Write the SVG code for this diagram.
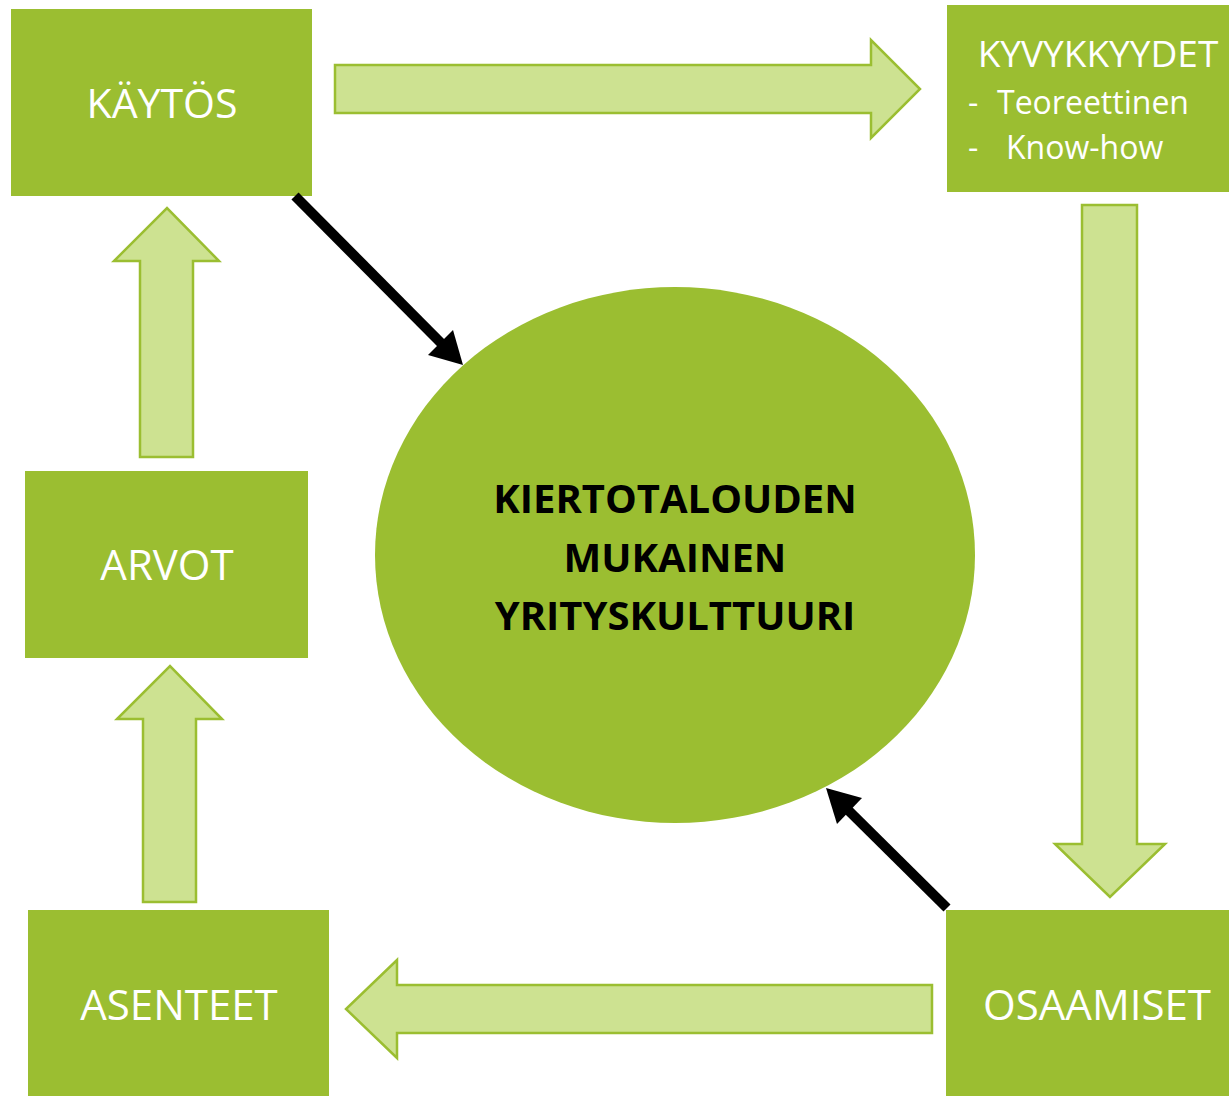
<svg xmlns="http://www.w3.org/2000/svg" width="1229" height="1096" viewBox="0 0 1229 1096">
  <style>
    .box { fill: #9BBE31; }
    .blk { fill: #CDE291; stroke: #9BBE31; stroke-width: 2.5; stroke-linejoin: miter; }
    .lbl { font-family: "Open Sans", "Noto Sans", "Liberation Sans", sans-serif; fill: #FFFFFF; font-size: 42px; text-anchor: middle; }
    .ttl { font-family: "Open Sans", "Noto Sans", "Liberation Sans", sans-serif; fill: #FFFFFF; font-size: 37px; text-anchor: middle; }
    .sub { font-family: "Open Sans", "Noto Sans", "Liberation Sans", sans-serif; fill: #FFFFFF; font-size: 32px; }
    .ctr { font-family: "Open Sans", "Noto Sans", "Liberation Sans", sans-serif; fill: #000000; font-size: 40px; font-weight: bold; text-anchor: middle; }
    .conn { stroke: #000000; stroke-width: 10; stroke-linecap: butt; fill: none; }
    .head { fill: #000000; }
  </style>
  <rect width="1229" height="1096" fill="#FFFFFF"/>

  <g id="center">
    <ellipse cx="675" cy="555" rx="300" ry="268" class="box"/>
    <text class="ctr" x="675" y="513">KIERTOTALOUDEN</text>
    <text class="ctr" x="675" y="572">MUKAINEN</text>
    <text class="ctr" x="675" y="630">YRITYSKULTTUURI</text>
  </g>

  <g id="kaytos">
    <rect x="11" y="9" width="301" height="187" class="box"/>
    <text class="lbl" x="162" y="118" style="font-size:41px">KÄYTÖS</text>
  </g>

  <g id="kyvykkyydet">
    <rect x="947" y="5" width="282" height="187" class="box"/>
    <text class="ttl" x="1098" y="67">KYVYKKYYDET</text>
    <text class="sub"><tspan x="968" y="114">-</tspan><tspan x="997" y="114">Teoreettinen</tspan></text>
    <text class="sub"><tspan x="968" y="159">-</tspan><tspan x="1006" y="159">Know-how</tspan></text>
  </g>

  <g id="arvot">
    <rect x="25" y="471" width="283" height="187" class="box"/>
    <text class="lbl" x="167" y="580">ARVOT</text>
  </g>

  <g id="asenteet">
    <rect x="28" y="910" width="301" height="186" class="box"/>
    <text class="lbl" x="179" y="1020">ASENTEET</text>
  </g>

  <g id="osaamiset">
    <rect x="946" y="910" width="283" height="186" class="box"/>
    <text class="lbl" x="1097" y="1020">OSAAMISET</text>
  </g>

  <g id="connectors">
    <!-- KÄYTÖS -> KYVYKKYYDET -->
    <polygon class="blk" points="335,65 871,65 871,40 920,89 871,138 871,113 335,113"/>
    <!-- KYVYKKYYDET -> OSAAMISET -->
    <polygon class="blk" points="1082,205 1137,205 1137,844 1165,844 1110,897 1055,844 1082,844"/>
    <!-- OSAAMISET -> ASENTEET -->
    <polygon class="blk" points="932,985 932,1033 397,1033 397,1058 346,1009 397,960 397,985"/>
    <!-- ASENTEET -> ARVOT -->
    <polygon class="blk" points="143,902 196,902 196,719 222,719 170,666 117,719 143,719"/>
    <!-- ARVOT -> KÄYTÖS -->
    <polygon class="blk" points="140,457 193,457 193,261 219,261 167,208 114,261 140,261"/>

    <!-- KÄYTÖS -> center -->
    <line class="conn" x1="295" y1="196" x2="443" y2="345"/>
    <polygon class="head" points="463,365 453,330 428,355"/>
    <!-- OSAAMISET -> center -->
    <line class="conn" x1="947" y1="908" x2="846" y2="808"/>
    <polygon class="head" points="826,788 862,798 837,824"/>
  </g>
</svg>
